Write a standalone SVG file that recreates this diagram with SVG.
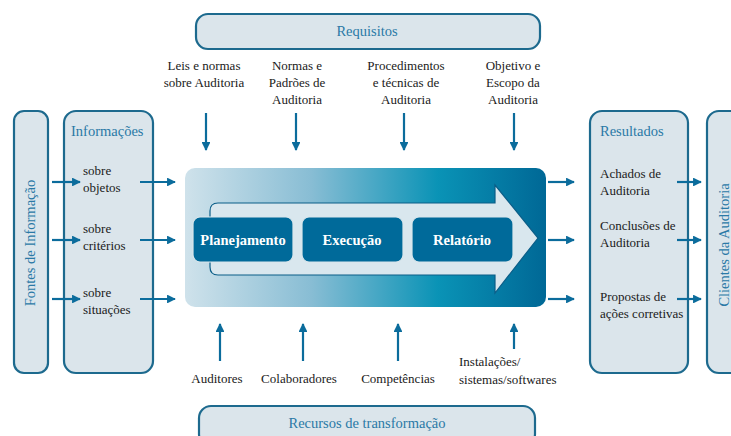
<svg xmlns="http://www.w3.org/2000/svg" width="731" height="436" viewBox="0 0 731 436">
<style>
.box{fill:#dbe5eb;stroke:#1d6a8e;stroke-width:2.2}
.t{font-family:"Liberation Serif",serif;font-size:13px;fill:#1a1a1a}
.h{font-family:"Liberation Serif",serif;font-size:14.5px;fill:#2a79a6}
.c{text-anchor:middle}
.con line{stroke:#0b6c9c;stroke-width:2.2;marker-end:url(#ah)}
.step{fill:#006a9a;stroke:#d9e6ec;stroke-width:1.2}
.st{font-family:"Liberation Serif",serif;font-size:14.5px;font-weight:bold;fill:#fff;text-anchor:middle}
</style>
<defs>
<marker id="ah" viewBox="0 0 10 10" refX="9" refY="5" markerWidth="4" markerHeight="4" orient="auto" markerUnits="strokeWidth">
<path d="M0,0 L10,5 L0,10 z" fill="#0b6c9c"/>
</marker>
<linearGradient id="g" x1="0" y1="0" x2="1" y2="0">
<stop offset="0" stop-color="#cfe2eb"/>
<stop offset="0.35" stop-color="#88bdd4"/>
<stop offset="0.7" stop-color="#0a93b6"/>
<stop offset="1" stop-color="#006896"/>
</linearGradient>
</defs>

<g id="requisitos">
<rect class="box" x="196" y="14" width="344" height="35" rx="12"/>
<text class="h c" x="367" y="36">Requisitos</text>
</g>
<g id="recursos">
<rect class="box" x="199" y="406" width="336" height="40" rx="12"/>
<text class="h c" x="367" y="428">Recursos de transformação</text>
</g>
<g id="fontes">
<rect class="box" x="14" y="111" width="34" height="262" rx="10"/>
<text class="h c" transform="translate(35,243) rotate(-90)">Fontes de Informação</text>
</g>
<g id="informacoes">
<rect class="box" x="64" y="111" width="89" height="262" rx="12"/>
<text class="h" x="71" y="136">Informações</text>
<text class="t" x="83" y="175">sobre</text>
<text class="t" x="83" y="192">objetos</text>
<text class="t" x="83" y="233">sobre</text>
<text class="t" x="83" y="250">critérios</text>
<text class="t" x="83" y="297">sobre</text>
<text class="t" x="83" y="314">situações</text>
</g>
<g id="resultados">
<rect class="box" x="590" y="111" width="98" height="262" rx="12"/>
<text class="h" x="600" y="136">Resultados</text>
<text class="t" x="600" y="178">Achados de</text>
<text class="t" x="600" y="195">Auditoria</text>
<text class="t" x="600" y="230">Conclusões de</text>
<text class="t" x="600" y="247">Auditoria</text>
<text class="t" x="600" y="301">Propostas de</text>
<text class="t" x="600" y="318">ações corretivas</text>
</g>
<g id="clientes">
<rect class="box" x="707" y="111" width="40" height="262" rx="12"/>
<text class="h c" transform="translate(729,245) rotate(-90)">Clientes da Auditoria</text>
</g>

<g id="processo">
<rect x="185" y="168" width="361" height="139" rx="10" fill="url(#g)"/>
<path d="M218,203 L495,203 L495,185 L538,238 L495,293 L495,275 L218,275 Q210,275 210,267 L210,211 Q210,203 218,203 z" fill="#d9e7ee" stroke="#0b5e88" stroke-width="1.2"/>
</g>
<g id="planejamento">
<rect class="step" x="193" y="217" width="100" height="45" rx="7"/>
<text class="st" x="243" y="245">Planejamento</text>
</g>
<g id="execucao">
<rect class="step" x="302" y="217" width="101" height="45" rx="7"/>
<text class="st" x="352" y="245">Execução</text>
</g>
<g id="relatorio">
<rect class="step" x="412" y="217" width="101" height="45" rx="7"/>
<text class="st" x="462" y="245">Relatório</text>
</g>

<g id="labels-top">
<text class="t c" x="204" y="70">Leis e normas</text>
<text class="t c" x="204" y="87">sobre Auditoria</text>
<text class="t c" x="297" y="70">Normas e</text>
<text class="t c" x="297" y="87">Padrões de</text>
<text class="t c" x="297" y="104">Auditoria</text>
<text class="t c" x="406" y="70">Procedimentos</text>
<text class="t c" x="406" y="87">e técnicas de</text>
<text class="t c" x="406" y="104">Auditoria</text>
<text class="t c" x="513" y="70">Objetivo e</text>
<text class="t c" x="513" y="87">Escopo da</text>
<text class="t c" x="513" y="104">Auditoria</text>
</g>
<g id="labels-bottom">
<text class="t c" x="217" y="383">Auditores</text>
<text class="t c" x="299" y="383">Colaboradores</text>
<text class="t c" x="398" y="383">Competências</text>
<text class="t" x="459" y="366">Instalações/</text>
<text class="t" x="459" y="384">sistemas/softwares</text>
</g>

<g id="connectors" class="con">
<line x1="206" y1="113" x2="206" y2="150"/>
<line x1="296" y1="113" x2="296" y2="150"/>
<line x1="404" y1="113" x2="404" y2="150"/>
<line x1="514" y1="113" x2="514" y2="150"/>
<line x1="220" y1="361" x2="220" y2="324"/>
<line x1="303" y1="361" x2="303" y2="324"/>
<line x1="398" y1="361" x2="398" y2="324"/>
<line x1="514" y1="349" x2="514" y2="324"/>
<line x1="52" y1="182" x2="80" y2="182"/>
<line x1="52" y1="240" x2="80" y2="240"/>
<line x1="52" y1="299" x2="80" y2="299"/>
<line x1="140" y1="182" x2="175" y2="182"/>
<line x1="140" y1="240" x2="175" y2="240"/>
<line x1="140" y1="299" x2="175" y2="299"/>
<line x1="548" y1="182" x2="574" y2="182"/>
<line x1="548" y1="240" x2="574" y2="240"/>
<line x1="548" y1="299" x2="574" y2="299"/>
<line x1="677" y1="182" x2="701" y2="182"/>
<line x1="677" y1="240" x2="701" y2="240"/>
<line x1="677" y1="299" x2="701" y2="299"/>
</g>
</svg>
